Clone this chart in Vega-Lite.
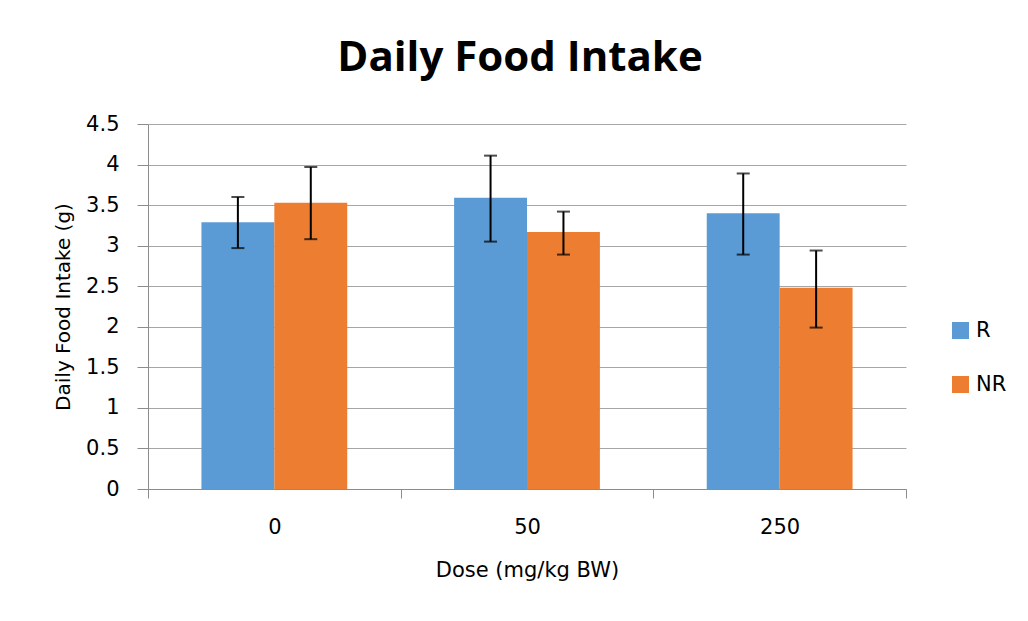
{
  "$schema": "https://vega.github.io/schema/vega-lite/v6.json",
  "width": 758,
  "height": 365,
  "autosize": {"type": "none"},
  "padding": {"left": 148, "top": 124, "right": 122, "bottom": 132},
  "background": "white",
  "title": {
    "text": "Daily Food Intake",
    "font": "Open Sans",
    "fontSize": 42,
    "fontWeight": "bold",
    "color": "#000000",
    "anchor": "middle",
    "frame": "group",
    "baseline": "alphabetic",
    "offset": 0,
    "dx": -7
  },
  "config": {
    "font": "DejaVu Sans",
    "view": {"stroke": null},
    "axis": {"labelFont": "DejaVu Sans", "titleFont": "DejaVu Sans"},
    "legend": {"labelFont": "DejaVu Sans"}
  },
  "data": {
    "values": [
      {"dose": "0", "group": "R", "mean": 3.29, "lo": 2.97, "hi": 3.60},
      {"dose": "0", "group": "NR", "mean": 3.53, "lo": 3.08, "hi": 3.97},
      {"dose": "50", "group": "R", "mean": 3.59, "lo": 3.05, "hi": 4.11},
      {"dose": "50", "group": "NR", "mean": 3.17, "lo": 2.89, "hi": 3.42},
      {"dose": "250", "group": "R", "mean": 3.40, "lo": 2.89, "hi": 3.89},
      {"dose": "250", "group": "NR", "mean": 2.48, "lo": 1.99, "hi": 2.94}
    ]
  },
  "encoding": {
    "x": {
      "field": "dose",
      "type": "nominal",
      "sort": ["0", "50", "250"],
      "scale": {"paddingInner": 0, "paddingOuter": 0},
      "axis": {
        "title": "Dose (mg/kg BW)",
        "labelAngle": 0,
        "labelFontSize": 21,
        "labelColor": "#000000",
        "labelPadding": 18,
        "tickBand": "extent",
        "tickSize": 9,
        "tickColor": "#8c8c8c",
        "domainColor": "#8c8c8c",
        "titleFontSize": 21,
        "titleFontWeight": "normal",
        "titleColor": "#000000",
        "titlePadding": 22
      }
    },
    "xOffset": {
      "field": "group",
      "type": "nominal",
      "sort": ["R", "NR"],
      "scale": {"paddingInner": 0, "paddingOuter": 0.733}
    }
  },
  "layer": [
    {
      "mark": {"type": "bar"},
      "encoding": {
        "y": {
          "field": "mean",
          "type": "quantitative",
          "scale": {"domain": [0, 4.5], "nice": false},
          "axis": {
            "title": "Daily Food Intake (g)",
            "values": [0, 0.5, 1, 1.5, 2, 2.5, 3, 3.5, 4, 4.5],
            "labelExpr": "datum.value",
            "labelFontSize": 21,
            "labelColor": "#000000",
            "labelPadding": 18,
            "tickSize": 11,
            "tickColor": "#8c8c8c",
            "domainColor": "#8c8c8c",
            "grid": true,
            "gridColor": "#a6a6a6",
            "gridWidth": 1.2,
            "titleFontSize": 20,
            "titleFontWeight": "normal",
            "titleColor": "#000000",
            "titlePadding": 12
          }
        },
        "color": {
          "field": "group",
          "type": "nominal",
          "sort": ["R", "NR"],
          "scale": {"domain": ["R", "NR"], "range": ["#5B9BD5", "#ED7D31"]},
          "legend": {
            "title": null,
            "orient": "none",
            "legendX": 802,
            "legendY": 196,
            "symbolType": "square",
            "symbolSize": 289,
            "symbolStrokeWidth": 0,
            "labelFontSize": 21,
            "labelColor": "#000000",
            "rowPadding": 32,
            "labelOffset": 5
          }
        }
      }
    },
    {
      "mark": {"type": "rule", "color": "#000000", "strokeWidth": 2},
      "encoding": {
        "y": {"field": "lo", "type": "quantitative"},
        "y2": {"field": "hi"}
      }
    },
    {
      "mark": {"type": "tick", "color": "#000000", "thickness": 2, "size": 13},
      "encoding": {
        "y": {"field": "lo", "type": "quantitative"}
      }
    },
    {
      "mark": {"type": "tick", "color": "#000000", "thickness": 2, "size": 13},
      "encoding": {
        "y": {"field": "hi", "type": "quantitative"}
      }
    }
  ]
}
